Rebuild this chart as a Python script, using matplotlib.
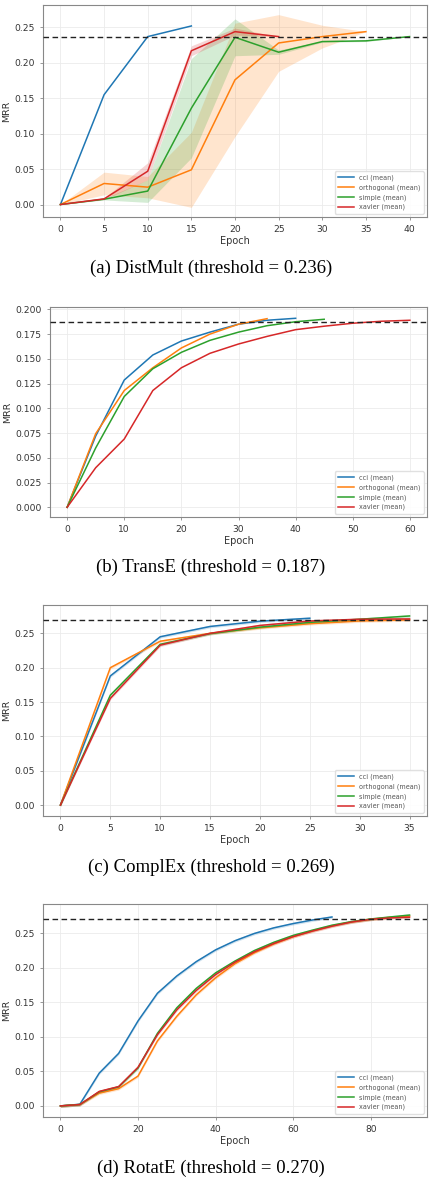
import numpy as np
import matplotlib.pyplot as plt

# (a) DistMult
dm_epochs = [0, 5, 10, 15, 20, 25, 30, 35, 40]
dm_cci = [0.0, 0.155, 0.237, 0.252]
dm_orth = [0.0, 0.0297, 0.0245, 0.049, 0.176, 0.228, 0.237, 0.244]
dm_orth_std = [0.0, 0.016, 0.015, 0.053, 0.08, 0.04, 0.016, 0.0]
dm_simple = [0.0, 0.0075, 0.019, 0.136, 0.236, 0.215, 0.230, 0.231, 0.237]
dm_simple_std = [0.0, 0.001, 0.016, 0.07, 0.026, 0.003, 0.001, 0.001, 0.0]
dm_xavier = [0.0, 0.008, 0.047, 0.217, 0.244, 0.237]
dm_xavier_std = [0.0, 0.001, 0.012, 0.007, 0.005, 0.0]

# (b) TransE
te_epochs = [0, 5, 10, 15, 20, 25, 30, 35, 40, 45, 50, 55, 60]
te_cci = [0.0, 0.072, 0.1286, 0.1539, 0.168, 0.177, 0.185, 0.189, 0.191]
te_orth = [0.0, 0.0744, 0.118, 0.141, 0.161, 0.175, 0.185, 0.1906]
te_simple = [0.0, 0.060, 0.112, 0.140, 0.1566, 0.1687, 0.177, 0.1835, 0.1875, 0.190]
te_xavier = [0.0, 0.040, 0.069, 0.118, 0.141, 0.1556, 0.165, 0.1727, 0.1795,
             0.183, 0.186, 0.188, 0.189]

# (c) ComplEx
ce_epochs = [0, 5, 10, 15, 20, 25, 30, 35]
ce_cci = [0.0, 0.188, 0.245, 0.260, 0.2677, 0.272]
ce_orth = [0.0, 0.200, 0.2385, 0.250, 0.258, 0.264, 0.268, 0.2696]
ce_simple = [0.0, 0.160, 0.234, 0.2495, 0.259, 0.266, 0.2705, 0.2753]
ce_xavier = [0.0, 0.1553, 0.2328, 0.250, 0.2615, 0.268, 0.2705, 0.271]

# (d) RotatE
re_epochs = list(range(0, 95, 5))
re_cci = [0.0, 0.0024, 0.0475, 0.076, 0.123, 0.163, 0.188, 0.2087, 0.2258, 0.239,
          0.2495, 0.2576, 0.2638, 0.269, 0.2733]
re_orth = [0.0, 0.002, 0.0185, 0.025, 0.0432, 0.094, 0.1297, 0.1607, 0.1854, 0.2058,
           0.2215, 0.2343, 0.2448, 0.2533, 0.2605, 0.2662, 0.270, 0.2728, 0.2747]
re_simple = [0.0, 0.002, 0.0204, 0.0276, 0.055, 0.105, 0.142, 0.170, 0.1925, 0.2096,
             0.2248, 0.2367, 0.2467, 0.2543, 0.2614, 0.2666, 0.2704, 0.2733, 0.2761]
re_xavier = [0.0, 0.002, 0.021, 0.028, 0.056, 0.103, 0.139, 0.167, 0.190, 0.208,
             0.223, 0.235, 0.245, 0.253, 0.260, 0.266, 0.270, 0.272, 0.273]

names = ['cci', 'orthogonal', 'simple', 'xavier']
colors = ['#1f77b4', '#ff7f0e', '#2ca02c', '#d62728']

panels = [
    ('(a) DistMult (threshold = 0.236)', 0.236, dm_epochs,
     [dm_cci, dm_orth, dm_simple, dm_xavier],
     [None, dm_orth_std, dm_simple_std, dm_xavier_std], None),
    ('(b) TransE (threshold = 0.187)', 0.187, te_epochs,
     [te_cci, te_orth, te_simple, te_xavier], [None] * 4, (-0.0098, 0.2024)),
    ('(c) ComplEx (threshold = 0.269)', 0.269, ce_epochs,
     [ce_cci, ce_orth, ce_simple, ce_xavier], [0.002] * 4, None),
    ('(d) RotatE (threshold = 0.270)', 0.270, re_epochs,
     [re_cci, re_orth, re_simple, re_xavier], [0.002] * 4, None),
]

# axes boxes in pixels: left, top, right, bottom ; caption y
boxes = [(43, 5, 427, 217, 268), (50, 307, 427, 517, 567),
         (43, 605, 427, 816, 867), (43, 904, 427, 1117, 1168)]

W, H = 432, 1181
fig = plt.figure(figsize=(W / 100, H / 100), dpi=100)
txt = '#333333'

for (cap, thr, ep, series, stds, ylim), (l, t, r, b, cy) in zip(panels, boxes):
    ax = fig.add_axes([l / W, 1 - b / H, (r - l) / W, (b - t) / H])
    for name, c, y, s in zip(names, colors, series, stds):
        x = np.array(ep[:len(y)])
        y = np.array(y)
        ax.plot(x, y, color=c, lw=1.1, label=name + ' (mean)', zorder=3)
        if s is not None:
            s = np.array(s) if np.ndim(s) else np.full(len(y), s)
            ax.fill_between(x, y - s, y + s, color=c, alpha=0.2, lw=0)
    ax.axhline(thr, color='#222222', ls='--', lw=1.0, dashes=(4, 2.5), zorder=4)
    if ylim:
        ax.set_ylim(*ylim)
    ax.grid(True, color='#ebebeb', lw=0.6)
    ax.set_axisbelow(True)
    for sp in ax.spines.values():
        sp.set_color('#888888')
        sp.set_linewidth(0.8)
    ax.tick_params(labelsize=6.6, colors='#888888', labelcolor=txt, length=2.5, width=0.6)
    ax.set_xlabel('Epoch', fontsize=7, color=txt, labelpad=1)
    ax.set_ylabel('MRR', fontsize=6.8, color=txt, labelpad=2)
    leg = ax.legend(loc='lower right', fontsize=4.7, handlelength=2.4, borderpad=0.5,
                    labelspacing=0.5, framealpha=0.9, edgecolor='#dddddd')
    for tx in leg.get_texts():
        tx.set_color('#555555')
    fig.text(211 / W, 1 - cy / H, cap, ha='center', va='center',
             family='Liberation Serif', fontsize=13.5)

fig.savefig('out.png', dpi=100)
